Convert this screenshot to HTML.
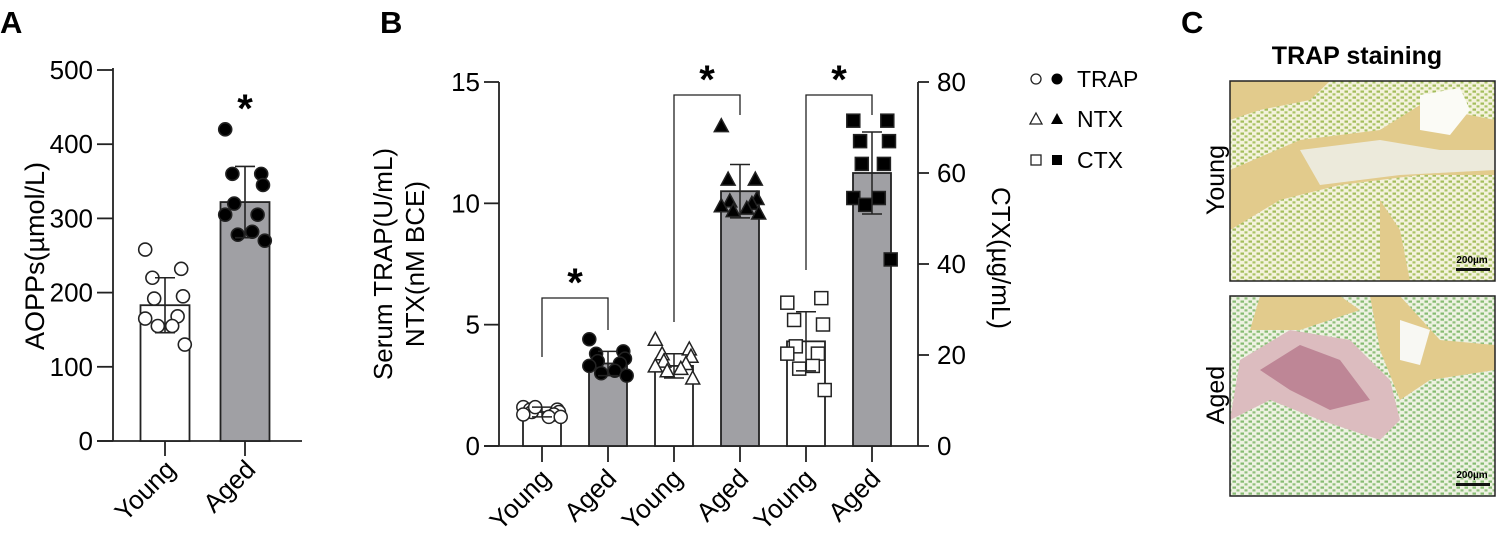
<!DOCTYPE html>
<html><head><meta charset="utf-8"><style>
html,body{margin:0;padding:0;background:#fff;}
svg{display:block;font-family:"Liberation Sans",Arial,sans-serif;}
</style></head><body>
<svg id="fig" width="1497" height="543" viewBox="0 0 1497 543" xmlns="http://www.w3.org/2000/svg">
<defs>
<pattern id="cells" width="8" height="6" patternUnits="userSpaceOnUse">
<rect width="8" height="6" fill="#f4f2dc"/>
<rect x="0.5" y="0.5" width="3.5" height="2.2" fill="#a3bd5c"/>
<rect x="4.5" y="3.3" width="3" height="2.2" fill="#aac466"/>
</pattern>
<pattern id="cells2" width="8" height="6" patternUnits="userSpaceOnUse">
<rect width="8" height="6" fill="#eef2e2"/>
<rect x="0.5" y="0.5" width="3.5" height="2.2" fill="#86bb72"/>
<rect x="4.5" y="3.3" width="3" height="2.2" fill="#90c07c"/>
</pattern>
</defs>
<g id="panelA"></g>
<g id="panelB"></g>
<g id="panelC">
<text x="1181" y="33" font-size="31" font-weight="bold">C</text>
<text x="1357" y="64" font-size="25" font-weight="bold" text-anchor="middle">TRAP staining</text>
<text transform="translate(1224,180) rotate(-90)" font-size="25" text-anchor="middle">Young</text>
<text transform="translate(1224,395) rotate(-90)" font-size="25" text-anchor="middle">Aged</text>
<g>
<rect x="1230" y="81" width="265" height="200" fill="url(#cells)"/>
<path d="M1230,170 L1300,140 L1380,130 L1420,105 L1495,120 L1495,175 L1420,175 L1340,185 L1280,200 L1230,230 Z" fill="#e2cb8c"/>
<path d="M1300,150 L1380,140 L1440,150 L1495,150 L1495,170 L1400,175 L1320,185 Z" fill="#eceadb"/>
<path d="M1230,81 L1330,81 L1310,100 L1260,110 L1230,120 Z" fill="#e2cb8c"/>
<path d="M1420,95 L1460,88 L1470,110 L1450,135 L1420,130 Z" fill="#fbfbf6"/>
<path d="M1380,200 L1400,230 L1410,281 L1380,281 Z" fill="#e2cb8c"/>
<rect x="1230" y="81" width="265" height="200" fill="none" stroke="#222" stroke-width="1.5"/>
<text x="1472" y="263" font-size="10" font-weight="bold" text-anchor="middle">200µm</text>
<rect x="1456" y="268" width="34" height="3" fill="#111"/>
</g>
<g>
<rect x="1230" y="296" width="265" height="200" fill="url(#cells2)"/>
<path d="M1260,296 L1340,296 L1360,310 L1300,330 L1250,330 Z" fill="#e2cb8c"/>
<path d="M1370,296 L1400,296 L1440,340 L1495,345 L1495,370 L1430,380 L1400,400 L1380,350 Z" fill="#e2cb8c"/>
<path d="M1240,360 L1290,330 L1350,340 L1390,380 L1400,420 L1380,440 L1320,420 L1270,400 L1230,420 Z" fill="#dcbcbf"/>
<path d="M1260,370 L1300,345 L1340,360 L1370,400 L1330,410 L1290,390 Z" fill="#a0506e" opacity="0.5"/>
<path d="M1400,320 L1430,330 L1420,365 L1400,360 Z" fill="#f8f8f3"/>
<rect x="1230" y="296" width="265" height="200" fill="none" stroke="#222" stroke-width="1.5"/>
<text x="1472" y="478" font-size="10" font-weight="bold" text-anchor="middle">200µm</text>
<rect x="1456" y="483" width="34" height="3" fill="#111"/>
</g>
</g>
<script>
// ---------- Panel A data ----------
var aCategories = ["Young","Aged"];
var aMeans = [183, 322];
var aSD = [37, 48];
var aYoung = [258,232,220,195,192,168,165,155,155,130];
var aAged = [420,360,360,345,320,305,305,282,278,270];
var aTicks = [0,100,200,300,400,500];
// ---------- Panel B data ----------
var bCategories = ["Young","Aged","Young","Aged","Young","Aged"];
var bMeans = [1.4, 3.4, 3.3, 10.5, 23, 60];   // last two on CTX (right) scale
var bSD = [0.2, 0.5, 0.5, 1.1, 6.5, 9];
var trapYoung = [1.6,1.5,1.5,1.4,1.4,1.3,1.3,1.2,1.6,1.2];
var trapAged = [4.4,3.9,3.8,3.6,3.5,3.4,3.3,3.1,3.0,2.9];
var ntxYoung = [4.4,4.0,3.8,3.7,3.5,3.4,3.3,3.2,3.1,2.8];
var ntxAged = [13.2,11.0,11.0,10.2,10.1,10.0,9.9,9.8,9.7,9.6];
var ctxYoung = [31.5,32.5,27.7,26.7,21.9,20.3,20.3,17.6,17.0,12.3];
var ctxAged = [71.5,71.5,67,67,62,62,54.5,54.5,53,41];
var bLeftTicks = [0,5,10,15];
var bRightTicks = [0,20,40,60,80];

var NS="http://www.w3.org/2000/svg";
function mk(parent,tag,attrs,txt){var e=document.createElementNS(NS,tag);for(var k in attrs)e.setAttribute(k,attrs[k]);if(txt!==undefined)e.textContent=txt;parent.appendChild(e);return e;}
var jit=[-22,18,-14,20,-12,14,-22,8,-8,22];

// ---------- Panel A ----------
(function(){
var g=document.getElementById('panelA');
var x0=113, yB=441, yT=70, yMax=500;
function y(v){return yB-(v/yMax)*(yB-yT);}
var cx=[165,245], bw=49;
var t=mk(g,'text',{x:0,y:33,'font-size':31,'font-weight':'bold'},'A');


var ya=mk(g,'line',{x1:x0,y1:yT-2,x2:x0,y2:yB,stroke:'#222','stroke-width':1.8});


var xa=mk(g,'line',{x1:97,y1:yB,x2:302,y2:yB,stroke:'#222','stroke-width':1.8});


aTicks.forEach(function(v){
 mk(g,'line',{x1:97,y1:y(v),x2:x0,y2:y(v),stroke:'#222','stroke-width':1.8});
 var tl=mk(g,'text',{x:93,y:y(v)+9,'font-size':26,'text-anchor':'end'},String(v));
 
 
});
var yt=mk(g,'text',{transform:'translate(44,256) rotate(-90)','font-size':27,'text-anchor':'middle'},'AOPPs(µmol/L)');


var pts=[aYoung,aAged];
aCategories.forEach(function(c,i){
 var b=mk(g,'rect',{x:cx[i]-bw/2,y:y(aMeans[i]),width:bw,height:yB-y(aMeans[i]),fill:i?'#a0a0a4':'#fff',stroke:'#222','stroke-width':1.8});
 
 
 mk(g,'line',{x1:cx[i],y1:yB,x2:cx[i],y2:yB+15,stroke:'#222','stroke-width':1.8});
 var lb=mk(g,'text',{transform:'translate('+(cx[i]+12)+','+(yB+30)+') rotate(-45)','font-size':26,'text-anchor':'end'},c);
 
 
 pts[i].forEach(function(v,j){
  var p=mk(g,'circle',{cx:cx[i]+jit[j]*0.9,cy:y(v),r:6.5,fill:i?'#000':'#fff',stroke:'#222','stroke-width':1.6});
  
  
 });
 var hi=y(aMeans[i]+aSD[i]), lo=y(aMeans[i]-aSD[i]);
 var eb=mk(g,'path',{d:'M'+cx[i]+','+hi+'V'+lo+'M'+(cx[i]-10)+','+hi+'h20M'+(cx[i]-10)+','+lo+'h20',stroke:'#222','stroke-width':1.6,fill:'none'});
 
 
});
var st=mk(g,'text',{x:cx[1],y:122,'font-size':40,'font-weight':'bold','text-anchor':'middle'},'*');


})();

// ---------- Panel B ----------
(function(){
var g=document.getElementById('panelB');
var xL=499, xR=918, yB=446, yT=82;
function yl(v){return yB-(v/15)*(yB-yT);}
function yr(v){return yB-(v/80)*(yB-yT);}
var cx=[542,608,674,740,806,872], bw=38;
var t=mk(g,'text',{x:380,y:33,'font-size':31,'font-weight':'bold'},'B');


var la=mk(g,'line',{x1:xL,y1:yT,x2:xL,y2:yB,stroke:'#222','stroke-width':1.8});


var ra=mk(g,'line',{x1:xR,y1:yT,x2:xR,y2:yB,stroke:'#222','stroke-width':1.8});


var xa=mk(g,'line',{x1:484,y1:yB,x2:xR,y2:yB,stroke:'#222','stroke-width':1.8});


bLeftTicks.forEach(function(v){
 mk(g,'line',{x1:484,y1:yl(v),x2:xL,y2:yl(v),stroke:'#222','stroke-width':1.8});
 var tl=mk(g,'text',{x:480,y:yl(v)+9,'font-size':26,'text-anchor':'end'},String(v));
 
 
});
bRightTicks.forEach(function(v){
 mk(g,'line',{x1:xR,y1:yr(v),x2:xR+11,y2:yr(v),stroke:'#222','stroke-width':1.8});
 var tl=mk(g,'text',{x:937,y:yr(v)+9,'font-size':26},String(v));
 
 
});
var t1=mk(g,'text',{transform:'translate(392,264) rotate(-90)','font-size':26,'text-anchor':'middle'},'Serum TRAP(U/mL)');


var t2=mk(g,'text',{transform:'translate(424,264) rotate(-90)','font-size':26,'text-anchor':'middle'},'NTX(nM BCE)');


var t3=mk(g,'text',{transform:'translate(992,258) rotate(90)','font-size':26,'text-anchor':'middle'},'CTX(µg/mL)');


var series=[trapYoung,trapAged,ntxYoung,ntxAged,ctxYoung,ctxAged];
var shapes=['c','c','t','t','s','s'];
bCategories.forEach(function(c,i){
 var yf=i>=4?yr:yl, filled=i%2==1;
 var b=mk(g,'rect',{x:cx[i]-bw/2,y:yf(bMeans[i]),width:bw,height:yB-yf(bMeans[i]),fill:filled?'#a0a0a4':'#fff',stroke:'#222','stroke-width':1.8});
 
 
 mk(g,'line',{x1:cx[i],y1:yB,x2:cx[i],y2:yB+16,stroke:'#222','stroke-width':1.8});
 var lb=mk(g,'text',{transform:'translate('+(cx[i]+10)+','+(yB+34)+') rotate(-45)','font-size':26,'text-anchor':'end'},c);
 
 
 series[i].forEach(function(v,j){
  var px=cx[i]+jit[j]*0.85, py=yf(v), p, fill=filled?'#000':'#fff';
  if(shapes[i]=='c') p=mk(g,'circle',{cx:px,cy:py,r:6.5,fill:fill,stroke:'#222','stroke-width':1.5});
  else if(shapes[i]=='t') p=mk(g,'path',{d:'M'+px+','+(py-7)+'L'+(px+7)+','+(py+6)+'L'+(px-7)+','+(py+6)+'Z',fill:fill,stroke:'#222','stroke-width':1.5});
  else p=mk(g,'rect',{x:px-6.5,y:py-6.5,width:13,height:13,fill:fill,stroke:'#222','stroke-width':1.5});
  
  
 });
 var hi=yf(bMeans[i]+bSD[i]), lo=yf(bMeans[i]-bSD[i]);
 var eb=mk(g,'path',{d:'M'+cx[i]+','+hi+'V'+lo+'M'+(cx[i]-10)+','+hi+'h20M'+(cx[i]-10)+','+lo+'h20',stroke:'#222','stroke-width':1.5,fill:'none'});
 
 
});
var brackets=[[0,1,298,357,330],[2,3,95,322,115],[4,5,95,270,115]];
brackets.forEach(function(br){
 var a=cx[br[0]],b=cx[br[1]];
 var p=mk(g,'path',{d:'M'+a+','+br[3]+'V'+br[2]+'H'+b+'V'+br[4],stroke:'#222','stroke-width':1.3,fill:'none'});
 
 
 var s=mk(g,'text',{x:(a+b)/2,y:br[2]-2,'font-size':40,'font-weight':'bold','text-anchor':'middle'},'*');
 
 
});
var lg=mk(g,'g',{});


var names=['TRAP','NTX','CTX'], ly=[79,119,160];
names.forEach(function(n,i){
 var yy=ly[i];
 if(i==0){mk(lg,'circle',{cx:1036,cy:yy,r:5,fill:'#fff',stroke:'#222','stroke-width':1.3});mk(lg,'circle',{cx:1057,cy:yy,r:5.5,fill:'#000'});}
 if(i==1){mk(lg,'path',{d:'M1036,'+(yy-6)+'l6,11h-12z',fill:'#fff',stroke:'#222','stroke-width':1.3});mk(lg,'path',{d:'M1057,'+(yy-6)+'l6,11h-12z',fill:'#000'});}
 if(i==2){mk(lg,'rect',{x:1031,y:yy-5,width:10,height:10,fill:'#fff',stroke:'#222','stroke-width':1.3});mk(lg,'rect',{x:1052,y:yy-5,width:10,height:10,fill:'#000'});}
 var lt=mk(lg,'text',{x:1077,y:yy+8,'font-size':23},n);
 
 
});
})();
</script>
</svg>
</body></html>
